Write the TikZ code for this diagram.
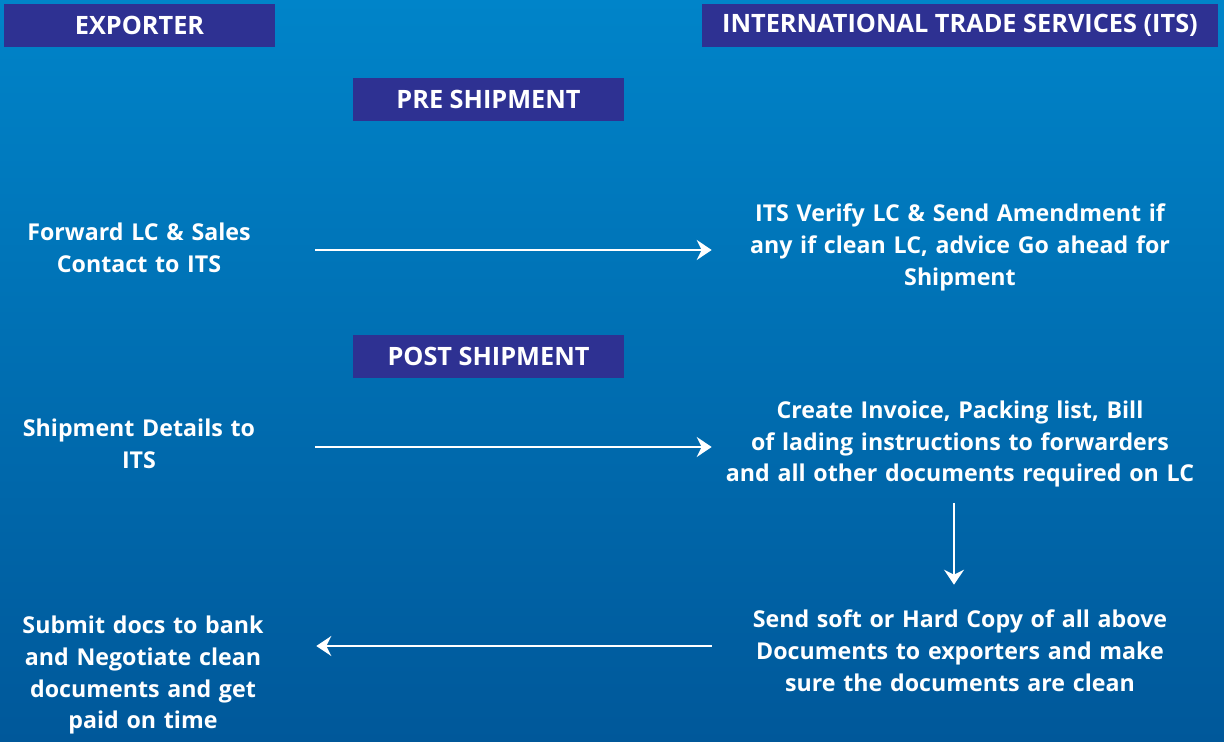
\documentclass[tikz,border=0pt]{standalone}
\usepackage{fontspec}
\setmainfont{Open Sans}
\usetikzlibrary{arrows.meta}
\definecolor{bgtop}{HTML}{0084C9}
\definecolor{bgbot}{HTML}{00589A}
\definecolor{bannerblue}{HTML}{2E3192}
\begin{document}
\begin{tikzpicture}[x=0.02cm,y=-0.02cm,
			banner/.style={fill=bannerblue,text=white,inner sep=0pt,minimum height=0.86cm,font=\bfseries\fontsize{14.4}{16}\selectfont},
			leftstep/.style={text=white,inner sep=0pt,text width=5cm,align=center,font=\bfseries\fontsize{13.2}{18.2}\selectfont},
			rightstep/.style={leftstep,text width=9.6cm},
			flow/.style={white,line width=1.2pt,-{Stealth[length=0.3cm,width=0.4cm,inset=0.1cm]}}]
				\shade[top color=bgtop,bottom color=bgbot] (0,0) rectangle (1224,742);
				% headers
				\node[banner,minimum width=5.42cm] (exporter) at (139.5,25.5) {EXPORTER};
				\node[banner,minimum width=10.32cm] (its) at (960,25.5) {INTERNATIONAL TRADE SERVICES (ITS)};
				\node[banner,minimum width=5.42cm] (pre) at (488.5,99.5) {PRE SHIPMENT};
				\node[banner,minimum width=5.42cm] (post) at (488.5,356.5) {POST SHIPMENT};
				% steps
				\node[leftstep] (forward) at (139,248) {Forward LC \& Sales\\Contact to ITS};
				\node[rightstep] (verify) at (960,247) {ITS Verify LC \& Send Amendment if\\any if clean LC, advice Go ahead for\\Shipment};
				\node[leftstep] (details) at (139,444) {Shipment Details to\\ITS};
				\node[rightstep] (invoice) at (960,444) {Create Invoice, Packing list, Bill\\of lading instructions to forwarders\\and all other documents required on LC};
				\node[rightstep] (copies) at (960,651) {Send soft or Hard Copy of all above\\Documents to exporters and make\\sure the documents are clean};
				\node[leftstep] (submit) at (143,675) {Submit docs to bank\\and Negotiate clean\\documents and get\\paid on time};
				% arrows
				\draw[flow,shorten <=1.02cm,shorten >=0.16cm] ([yshift=-0.04cm]forward.east) -- ([yshift=-0.04cm]forward.east -| verify.west);
				\draw[flow,shorten <=1.02cm,shorten >=0.16cm] ([yshift=-0.06cm]details.east) -- ([yshift=-0.06cm]details.east -| invoice.west);
				\draw[flow,shorten <=0.3cm,shorten >=0.5cm] ([xshift=-0.12cm]invoice.south) -- ([xshift=-0.12cm]copies.north);
				\draw[flow,shorten <=0.16cm,shorten >=0.96cm] ([yshift=0.1cm]copies.west) -- ([yshift=0.1cm]copies.west -| submit.east);
			\end{tikzpicture}
\end{document}
